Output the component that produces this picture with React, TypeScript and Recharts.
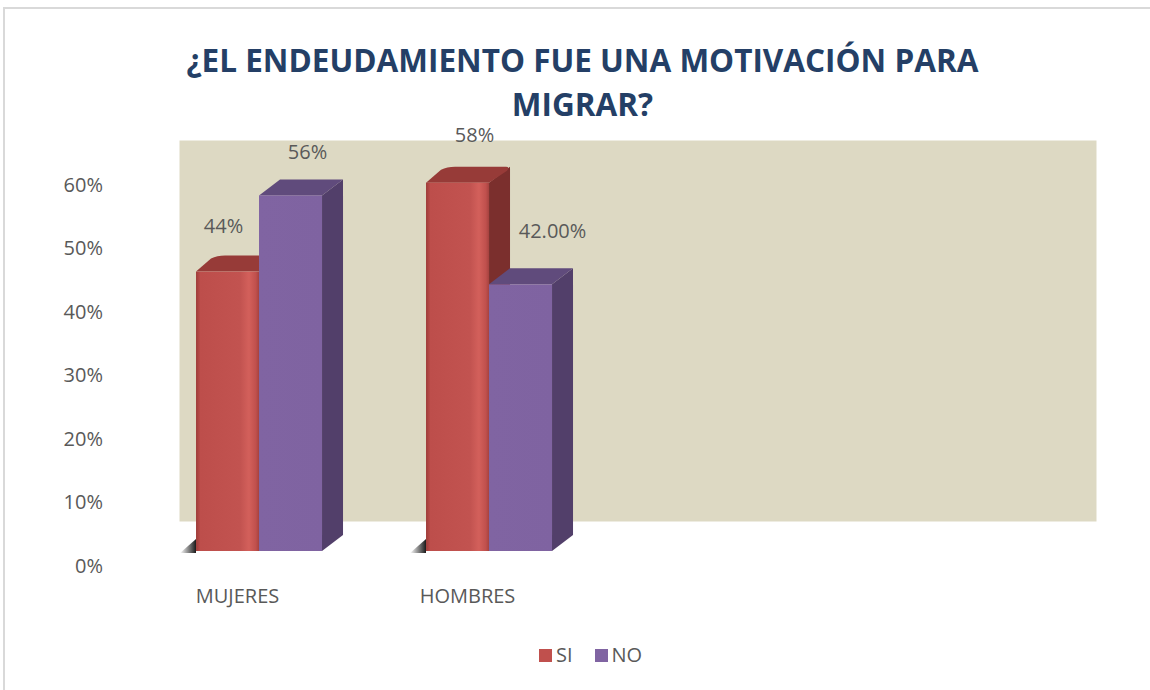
import React from "react";
import { BarChart, Bar, XAxis, YAxis, ReferenceArea, LabelList } from "recharts";

// ---- data ----
const categories = ["MUJERES", "HOMBRES", "", ""];
const siValues: (number | null)[] = [0.44, 0.58, null, null];
const noValues: (number | null)[] = [0.56, 0.42, null, null];
const siLabelDecimals = [0, 0];
const noLabelDecimals = [0, 2];
const yTicks = [0, 0.1, 0.2, 0.3, 0.4, 0.5, 0.6];
const titleLines = ["¿EL ENDEUDAMIENTO FUE UNA MOTIVACIÓN PARA", "MIGRAR?"];
const seriesNames = { si: "SI", no: "NO" };

const data = categories.map((c, i) => ({ cat: c, si: siValues[i], no: noValues[i] }));

// ---- style ----
const FONT = "'Open Sans', 'DejaVu Sans', sans-serif";
const TEXT = "#595959";
const RED = "#C0504D";
const PURPLE = "#8064A2";
const DX = 21;
const DY = -16;
// label nudges relative to bar front-top centre
const siNudge = [[-4, -46], [17, -48]];
const noNudge = [[17, -44], [32, -54]];

const fmt = (v: number, d: number) => (v * 100).toFixed(d) + "%";

function makeShape(kind: "si" | "no") {
  return (props: any) => {
    const { x, y, width: w, height: h } = props;
    if (!h || h <= 0) return null;
    const red = kind === "si";
    const gid = red ? "gradRed" : "gradPurple";
    const sid = "shadowGrad";
    const top = red ? "#973B38" : "#604B7C";
    const side = red ? "#7B2F2D" : "#523F6A";
    return (
      <g>
        <defs>
          <linearGradient id="gradRed" x1="0" y1="0" x2="1" y2="0">
            <stop offset="0" stopColor="#9E3C39" />
            <stop offset="0.07" stopColor="#BD4E4B" />
            <stop offset="0.7" stopColor="#C25350" />
            <stop offset="0.84" stopColor="#D3605B" />
            <stop offset="0.95" stopColor="#C0504D" />
            <stop offset="1" stopColor="#A5423F" />
          </linearGradient>
          <linearGradient id="gradPurple" x1="0" y1="0" x2="1" y2="0">
            <stop offset="0" stopColor="#8064A2" />
            <stop offset="1" stopColor="#7F63A1" />
          </linearGradient>
          <linearGradient id={sid} x1="0" y1="0" x2="1" y2="0">
            <stop offset="0" stopColor="#000" stopOpacity="0" />
            <stop offset="1" stopColor="#000" stopOpacity="0.9" />
          </linearGradient>
        </defs>
        {red && (
          <polygon
            points={`${x - 16},${y + h + 2} ${x},${y + h - 12} ${x},${y + h + 2}`}
            fill={`url(#${sid})`}
          />
        )}
        <polygon
          points={`${x + w},${y} ${x + w + DX},${y + DY} ${x + w + DX},${y + h + DY} ${x + w},${y + h}`}
          fill={side}
        />
        <path
          d={
            red
              ? `M${x},${y} L${x + DX - 6},${y + DY + 3} Q${x + DX},${y + DY} ${x + DX + 8},${y + DY} L${x + w + DX - 4},${y + DY} Q${x + w + DX},${y + DY} ${x + w + DX - 3},${y + DY + 4} L${x + w},${y} Z`
              : `M${x},${y} L${x + DX},${y + DY} L${x + w + DX},${y + DY} L${x + w},${y} Z`
          }
          fill={top}
        />
        <rect x={x} y={y} width={w} height={h} fill={`url(#${gid})`} />
      </g>
    );
  };
}

function makeLabel(kind: "si" | "no") {
  return (props: any) => {
    const { x, y, width, value, index } = props;
    if (value == null) return null;
    const nudge = kind === "si" ? siNudge[index] : noNudge[index];
    const dec = kind === "si" ? siLabelDecimals[index] : noLabelDecimals[index];
    if (!nudge) return null;
    return (
      <text
        x={x + width / 2 + nudge[0]}
        y={y + nudge[1]}
        textAnchor="middle"
        dominantBaseline="central"
        fill={TEXT}
        fontSize={20}
        fontFamily={FONT}
      >
        {fmt(value, dec)}
      </text>
    );
  };
}

const YTick = (props: any) => {
  const { y, payload } = props;
  return (
    <text x={103} y={y + 14} textAnchor="end" dominantBaseline="central" fill={TEXT} fontSize={20} fontFamily={FONT}>
      {fmt(payload.value, 0)}
    </text>
  );
};

const XTick = (props: any) => {
  const { x, payload } = props;
  if (!payload || !payload.value) return null;
  return (
    <text x={x - 22} y={595} textAnchor="middle" dominantBaseline="central" fill={TEXT} fontSize={20} fontFamily={FONT}>
      {payload.value}
    </text>
  );
};

export default function App() {
  return (
    <div style={{ position: "absolute", left: 0, top: 0, width: 1150, height: 690, background: "#fff", overflow: "hidden" }}>
      <div
        style={{
          position: "absolute",
          left: 3,
          top: 7,
          width: 1160,
          height: 700,
          borderTop: "2px solid #D9D9D9",
          borderLeft: "2px solid #D9D9D9",
        }}
      />
      {titleLines.map((t, i) => (
        <div
          key={i}
          style={{
            position: "absolute",
            left: 0,
            width: 1165,
            top: i === 0 ? 38 : 82,
            textAlign: "center",
            fontFamily: FONT,
            fontWeight: 700,
            fontSize: 31.5,
            lineHeight: "44px",
            color: "#243F66",
            whiteSpace: "nowrap",
          }}
        >
          {t}
        </div>
      ))}
      <div style={{ position: "absolute", left: 0, top: 0 }}>
        <BarChart
          width={1150}
          height={690}
          data={data}
          margin={{ top: 170, right: 85.5, bottom: 99, left: 84.5 }}
          barCategoryGap="22.4%"
          barGap={0}
        >
          <ReferenceArea
            y1={0}
            y2={0.6}
            shape={(p: any) => (
              <rect x={p.x + 35} y={p.y - 29.5} width={p.width - 3} height={p.height} fill="#DDD9C3" />
            )}
          />
          <XAxis dataKey="cat" axisLine={false} tickLine={false} tick={<XTick />} interval={0} height={40} />
          <YAxis
            domain={[0, 0.6]}
            ticks={yTicks}
            axisLine={false}
            tickLine={false}
            tick={<YTick />}
            width={60}
            interval={0}
          />
          <Bar dataKey="si" name={seriesNames.si} fill={RED} isAnimationActive={false} shape={makeShape("si")}>
            <LabelList dataKey="si" content={makeLabel("si")} />
          </Bar>
          <Bar dataKey="no" name={seriesNames.no} fill={PURPLE} isAnimationActive={false} shape={makeShape("no")}>
            <LabelList dataKey="no" content={makeLabel("no")} />
          </Bar>
        </BarChart>
      </div>
      <div
        style={{
          position: "absolute",
          left: 539,
          top: 641,
          display: "flex",
          alignItems: "center",
          fontFamily: FONT,
          fontSize: 20,
          color: TEXT,
          lineHeight: "28px",
        }}
      >
        <span style={{ width: 13, height: 13, background: RED, display: "inline-block", marginRight: 4 }} />
        <span style={{ marginRight: 22 }}>{seriesNames.si}</span>
        <span style={{ width: 13, height: 13, background: PURPLE, display: "inline-block", marginRight: 4 }} />
        <span>{seriesNames.no}</span>
      </div>
    </div>
  );
}
